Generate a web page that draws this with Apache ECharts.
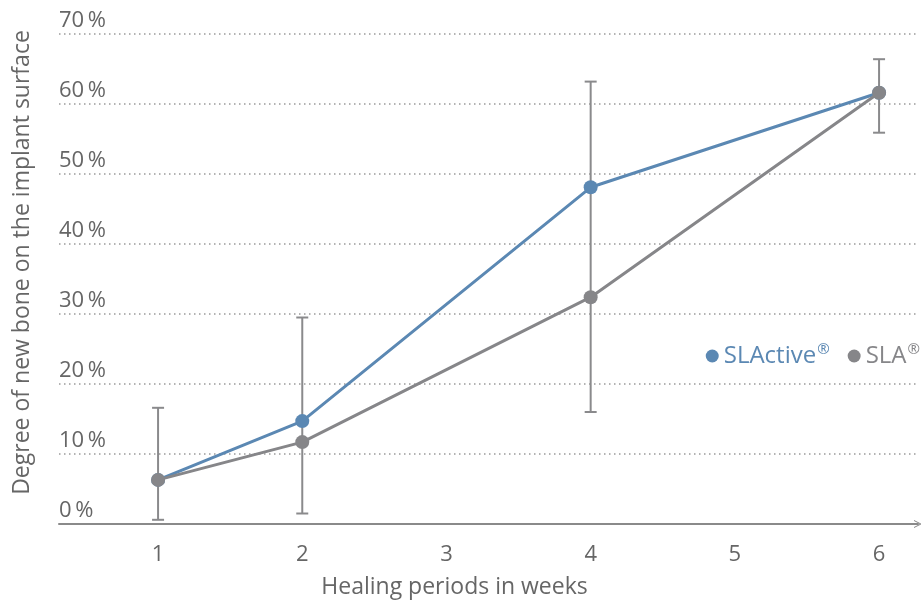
<!DOCTYPE html>
<html>
<head>
<meta charset="utf-8">
<title>Degree of new bone</title>
<script src="https://cdn.jsdelivr.net/npm/echarts@6/dist/echarts.min.js"></script>
<style>
  html, body { margin: 0; padding: 0; background: #fff; }
  #chart { width: 921px; height: 608px; }
</style>
</head>
<body>
<div id="chart"></div>
<script>
// healing periods (weeks)
const weeks = [1, 2, 4, 6]
const xLabels = [1, 2, 3, 4, 5, 6]

// degree of new bone (%)
const slActive = [6.3, 14.7, 48.1, 61.6]
const sla = [6.3, 11.7, 32.4, 61.6]

// error bars: low / high
const errLow = [0.6, 1.5, 16.0, 55.9]
const errHigh = [16.6, 29.5, 63.2, 66.4]

const blue = '#5b88b3'
const gray = '#868689'
const textColor = '#666'
const font = 'Open Sans'

const chart = echarts.init(document.getElementById('chart'))

const errData = weeks.map((w, i) => [w, errLow[i], errHigh[i]])

chart.setOption({
  animation: false,
  textStyle: { fontFamily: font },
  grid: { left: 59, right: 3, top: 34, bottom: 84 },
  legend: {
    right: -4,
    top: 337,
    icon: 'circle',
    itemWidth: 13,
    itemHeight: 13,
    itemGap: 18,
    formatter: name => name.replace('®', '{sup|®}'),
    textStyle: {
      fontFamily: font,
      fontSize: 24,
      rich: {
        sup: { fontSize: 15, verticalAlign: 'top', lineHeight: 28, padding: [0, 0, 0, 1] }
      }
    },
    data: [
      { name: 'SLActive®', textStyle: { color: blue } },
      { name: 'SLA®', textStyle: { color: gray } }
    ]
  },
  xAxis: {
    type: 'value',
    min: 0.313,
    max: 6.27,
    name: 'Healing periods in weeks',
    nameLocation: 'middle',
    nameGap: 52,
    nameTextStyle: { fontSize: 23, color: textColor, padding: [0, 68, 0, 0] },
    axisLine: {
      show: true,
      symbol: ['none', 'path://M0,10 L5,0 L10,10 L8.6,10 L5,2.6 L1.4,10 Z'],
      symbolSize: [14, 8],
      lineStyle: { color: '#8a8a8a', width: 2 }
    },
    axisTick: { show: false },
    splitLine: { show: false },
    axisLabel: {
      customValues: xLabels,
      fontSize: 22,
      color: textColor,
      margin: 20
    }
  },
  yAxis: {
    type: 'value',
    min: 0,
    max: 70,
    interval: 10,
    name: 'Degree of new bone on the implant surface',
    nameLocation: 'middle',
    nameGap: 25,
    nameTextStyle: { fontSize: 23, color: textColor, padding: [0, 0, 0, 33] },
    axisLine: { show: false },
    axisTick: { show: false },
    axisLabel: {
      inside: true,
      margin: 0,
      verticalAlign: 'bottom',
      fontSize: 22,
      color: textColor,
      padding: [0, 0, 2, 0],
      formatter: v => v + '\u2009%'
    },
    splitLine: {
      show: true,
      lineStyle: { color: '#9a9a9a', width: 1.5, type: [1.5, 3.5] }
    }
  },
  series: [
    {
      name: 'errors',
      type: 'custom',
      z: 1,
      data: errData,
      renderItem: (params, api) => {
        const x = api.value(0)
        const lo = api.coord([x, api.value(1)])
        const hi = api.coord([x, api.value(2)])
        const style = { stroke: '#8a8a8c', lineWidth: 2 }
        const cap = 6
        return {
          type: 'group',
          children: [
            { type: 'line', shape: { x1: lo[0], y1: lo[1], x2: hi[0], y2: hi[1] }, style },
            { type: 'line', shape: { x1: hi[0] - cap, y1: hi[1], x2: hi[0] + cap, y2: hi[1] }, style },
            { type: 'line', shape: { x1: lo[0] - cap, y1: lo[1], x2: lo[0] + cap, y2: lo[1] }, style }
          ]
        }
      }
    },
    {
      name: 'SLActive®',
      type: 'line',
      z: 2,
      data: weeks.map((w, i) => [w, slActive[i]]),
      symbol: 'circle',
      symbolSize: 14,
      lineStyle: { color: blue, width: 3 },
      itemStyle: { color: blue }
    },
    {
      name: 'SLA®',
      type: 'line',
      z: 3,
      data: weeks.map((w, i) => [w, sla[i]]),
      symbol: 'circle',
      symbolSize: 14,
      lineStyle: { color: gray, width: 3 },
      itemStyle: { color: gray }
    }
  ]
})
</script>
</body>
</html>
